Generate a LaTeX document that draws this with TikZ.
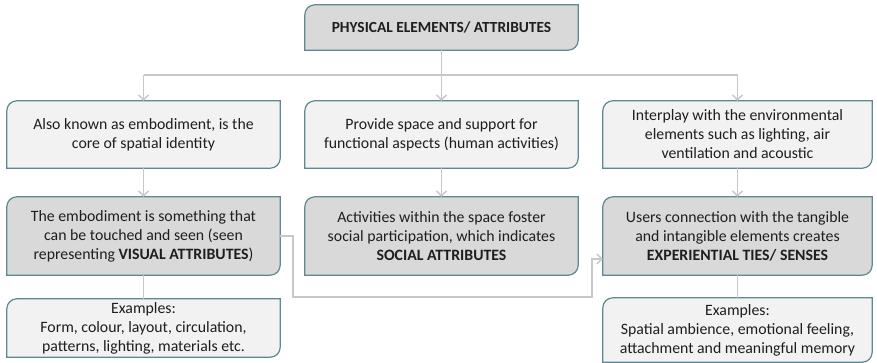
\documentclass[tikz,border=0pt]{standalone}
\usepackage{fontspec}
\setmainfont{Carlito}
\usetikzlibrary{arrows.meta,backgrounds}
\definecolor{edgecol}{RGB}{96,136,146}
\definecolor{lightfill}{RGB}{242,242,242}
\definecolor{darkfill}{RGB}{217,217,217}
\definecolor{linkcol}{RGB}{200,200,200}
\definecolor{txtcol}{RGB}{30,30,30}
\tikzset{
  card/.style={inner sep=0pt, align=center, text=txtcol,
    font=\fontsize{15.8}{19}\selectfont},
  link/.style={draw=linkcol, line width=1.5pt},
  arr/.style={link, -{Straight Barb[length=5pt,width=10pt,line width=1.3pt]}},
}
% outline with rounded top-left and bottom-right corners
\newcommand{\cardshape}[2]{%
  \path[draw=edgecol, fill=#2, line width=1.2pt]
    (#1.west) [rounded corners=10pt] |- (#1.north) [sharp corners] -| (#1.east)
    [rounded corners=10pt] |- (#1.south) [sharp corners] -| cycle;}
\begin{document}
\begin{tikzpicture}[x=1pt,y=-1pt]
\useasboundingbox (0,0) rectangle (877,363);

\node[card, minimum width=273pt, minimum height=45pt, font=\fontsize{15.4}{18}\selectfont\bfseries]
  (top) at (441.5,27.5) {PHYSICAL ELEMENTS/ ATTRIBUTES};

\node[card, minimum width=273pt, minimum height=67pt] (a1) at (143.5,134.5)
  {Also known as embodiment, is the\\core of spatial identity};
\node[card, minimum width=273pt, minimum height=67pt] (b1) at (441.5,134.5)
  {Provide space and support for\\functional aspects (human activities)};
\node[card, minimum width=269pt, minimum height=67pt] (c1) at (737.5,134.5)
  {Interplay with the environmental\\elements such as lighting, air\\ventilation and acoustic};

\node[card, minimum width=273pt, minimum height=78pt] (a2) at (143.5,236)
  {The embodiment is something that\\can be touched and seen (seen\\representing \textbf{VISUAL ATTRIBUTES})};
\node[card, minimum width=273pt, minimum height=78pt] (b2) at (441.5,236)
  {Activities within the space foster\\social participation, which indicates\\\textbf{SOCIAL ATTRIBUTES}};
\node[card, minimum width=269pt, minimum height=78pt] (c2) at (737.5,236)
  {Users connection with the tangible\\and intangible elements creates\\\textbf{EXPERIENTIAL TIES/ SENSES}};

\node[card, minimum width=273pt, minimum height=58pt] (a3) at (143.5,328)
  {Examples:\\Form, colour, layout, circulation,\\patterns, lighting, materials etc.};
\node[card, minimum width=269pt, minimum height=64pt] (c3) at (737.5,330)
  {Examples:\\Spatial ambience, emotional feeling,\\attachment and meaningful memory};

\begin{scope}[on background layer]
  \cardshape{top}{darkfill}
  \cardshape{a1}{lightfill}
  \cardshape{b1}{lightfill}
  \cardshape{c1}{lightfill}
  \cardshape{a2}{darkfill}
  \cardshape{b2}{darkfill}
  \cardshape{c2}{darkfill}
  \cardshape{a3}{lightfill}
  \cardshape{c3}{lightfill}
\end{scope}

% branching from the heading
\coordinate (split) at (441.5,75);
\draw[link] (top.south) -- (split);
\draw[link] (a1.north |- split) -- (c1.north |- split);
\draw[arr] (a1.north |- split) -- (a1.north);
\draw[arr] (split) -- (b1.north);
\draw[arr] (c1.north |- split) -- (c1.north);

% column links
\draw[arr] (a1.south) -- (a2.north);
\draw[arr] (b1.south) -- (b2.north);
\draw[arr] (c1.south) -- (c2.north);
\draw[link] (a2.south) -- (a3.north);
\draw[link] (c2.south) -- (c3.north);

% visual attributes feeding experiential ties
\coordinate (low) at (293,297);
\coordinate (rise) at (592,259);
\draw[arr] (a2.east) -| (low) -| (rise) -- (rise -| c2.west);
\end{tikzpicture}
\end{document}
